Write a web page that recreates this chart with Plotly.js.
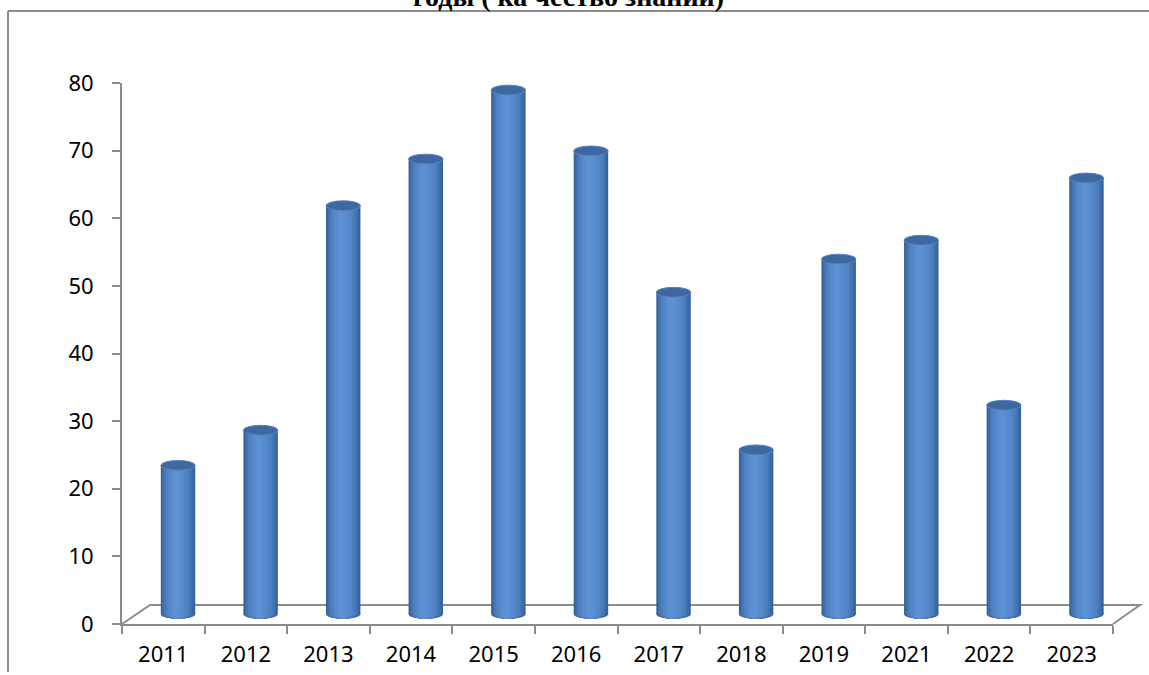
<!DOCTYPE html>
<html>
<head>
<meta charset="utf-8">
<script src="https://cdn.plot.ly/plotly-3.0.1.min.js"></script>
<style>html,body{margin:0;padding:0;background:#fff;}#chart{width:1149px;height:675px;}</style>
</head>
<body>
<div id="chart"></div>
<script>
// ---- data ----
const years = ["2011","2012","2013","2014","2015","2016","2017","2018","2019","2021","2022","2023"];
const quality = [22, 27.2, 60.4, 67.3, 77.5, 68.5, 47.6, 24.3, 52.5, 55.3, 30.9, 64.5];
const yTicks = [0, 10, 20, 30, 40, 50, 60, 70, 80];
const titleText = "годы ( ка чество знаний)";

// ---- geometry (pixels) ----
const W = 1149, H = 675;
const plotL = 122, plotR = 1113, plotT = 83, plotB = 624;
const pw = plotR - plotL, ph = plotB - plotT;
const px2x = p => (p - plotL) / pw;
const py2y = p => (plotB - p) / ph;
const unitPx = ph / 80;
const depthShift = 10 / unitPx; // bars sit at mid depth of floor

const barW = 0.417, barOff = -0.03;
const layers = [
  {f: 1.00, c: "#35609a"},
  {f: 0.92, c: "#3d6aa6"},
  {f: 0.82, c: "#4575b3"},
  {f: 0.70, c: "#4c7fbe"},
  {f: 0.56, c: "#5286c7"},
  {f: 0.40, c: "#578bcd"},
  {f: 0.22, c: "#5b90d3"}
];

const traces = [];
const shapes = [];
const idx = years.map((_, i) => i);

// invisible trace on the main axes so the visible y axis is drawn
traces.push({type: "scatter", mode: "markers", x: years, y: quality, yaxis: "y",
  marker: {opacity: 0, size: 1}, hoverinfo: "skip", showlegend: false});

// floor parallelogram
const gray = "#8c8c8c";
shapes.push({type: "path", xref: "paper", yref: "paper", layer: "below",
  path: `M ${px2x(122)} ${py2y(624)} L ${px2x(150)} ${py2y(605)} L ${px2x(1140)} ${py2y(605)} L ${px2x(1113)} ${py2y(624)}`,
  line: {color: gray, width: 2}, fillcolor: "rgba(0,0,0,0)"});

layers.forEach((L, k) => {
  const w = barW * L.f;
  const shift = -0.06 * barW * (1 - L.f);
  const off = barOff + (barW - w) / 2 + shift;
  traces.push({
    type: "bar", x: years, y: quality, yaxis: "y2",
    width: years.map(() => w), offset: years.map(() => off),
    marker: {color: L.c, line: {width: 0}},
    hoverinfo: "skip", showlegend: false
  });
  // bottom rounded ends
  idx.forEach(i => {
    shapes.push({type: "circle", xref: "x", yref: "y2", layer: "below",
      x0: i + off, x1: i + off + w, y0: -0.75, y1: 0.75,
      fillcolor: L.c, line: {width: 0}});
  });
});

// top caps
idx.forEach(i => {
  const v = quality[i];
  shapes.push({type: "circle", xref: "x", yref: "y2", layer: "above",
    x0: i + barOff, x1: i + barOff + barW, y0: v - 0.75, y1: v + 0.7,
    fillcolor: "#3d68a1", line: {color: "#5784bf", width: 1}});
});

// outer frame (left & top)
shapes.push({type: "line", xref: "paper", yref: "paper", x0: px2x(8), x1: px2x(8), y0: py2y(11), y1: py2y(672), line: {color: gray, width: 2}});
shapes.push({type: "line", xref: "paper", yref: "paper", x0: px2x(8), x1: px2x(1149), y0: py2y(11), y1: py2y(11), line: {color: gray, width: 2}});

const layout = {
  width: W, height: H,
  margin: {l: plotL, r: W - plotR, t: plotT, b: H - plotB, pad: 0},
  paper_bgcolor: "#fff", plot_bgcolor: "rgba(0,0,0,0)",
  barmode: "overlay",
  font: {family: "Noto Sans, Open Sans, sans-serif", color: "#000", size: 22},
  xaxis: {type: "category", range: [-0.5, 11.5], showgrid: false, zeroline: false,
    showline: true, linecolor: gray, linewidth: 2,
    ticks: "outside", tickson: "boundaries", ticklen: 8, tickcolor: gray, tickwidth: 2,
    ticklabelstandoff: 10, tickfont: {size: 22, color: "#000"}, fixedrange: true},
  yaxis: {range: [0, 80], tickvals: yTicks, ticktext: yTicks.map(String), showgrid: false, zeroline: false,
    showline: true, linecolor: gray, linewidth: 2,
    ticks: "outside", ticklen: 8, tickcolor: gray, tickwidth: 2,
    ticklabelstandoff: 14, tickfont: {size: 22, color: "#000"}, fixedrange: true},
  yaxis2: {overlaying: "y", range: [-depthShift, 80 - depthShift], visible: false, fixedrange: true},
  shapes: shapes,
  annotations: [{text: "<b>" + titleText + "</b>", xref: "paper", yref: "paper",
    x: px2x(568), y: py2y(14), xanchor: "center", yanchor: "bottom", showarrow: false,
    font: {family: "Liberation Serif, Times New Roman, serif", size: 28, color: "#000"}}]
};

Plotly.newPlot("chart", traces, layout, {staticPlot: true, displayModeBar: false});
</script>
</body>
</html>
